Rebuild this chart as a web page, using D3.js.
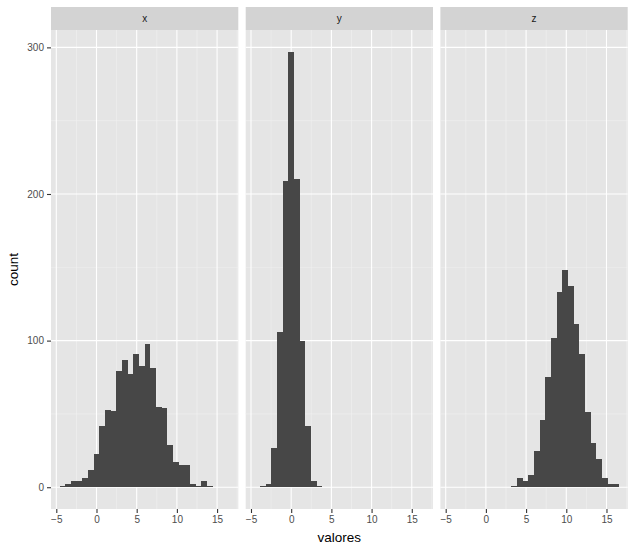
<!DOCTYPE html>
<html lang="en">
<head>
<meta charset="utf-8">
<title>Histogramas por variable</title>
<script src="https://cdn.jsdelivr.net/npm/d3@7"></script>
<style>
  body { margin: 0; background: #fff; }
  svg { display: block; font-family: "Liberation Sans", Arial, Helvetica, sans-serif; }
</style>
</head>
<body>
<div id="chart"></div>
<script>
// ---------- data ----------
const facets = ["x", "y", "z"];
const firstBreak = -4.6;   // left edge of the first bin
const binWidth = 0.706;    // shared bin width (30 bins)

// counts per bin, bins aligned to the shared breaks
const countsX = [1, 2, 4, 4, 6, 12, 23, 42, 53, 52, 79, 87, 77, 91, 83, 98, 81, 55, 54, 29, 17, 15, 15, 2, 1, 4, 1, 0, 0, 0];
const countsY = [0, 1, 2, 27, 106, 209, 297, 210, 100, 42, 4, 1, 0, 0, 0, 0, 0, 0, 0, 0, 0, 0, 0, 0, 0, 0, 0, 0, 0, 0];
const countsZ = [0, 0, 0, 0, 0, 0, 0, 0, 0, 0, 0, 1, 6, 4, 8, 25, 46, 75, 102, 133, 148, 137, 111, 91, 51, 30, 19, 6, 2, 2];

const xTicks = [-5, 0, 5, 10, 15];
const yTicks = [0, 100, 200, 300];
const xTitle = "valores";
const yTitle = "count";

// ---------- layout ----------
const width = 635, height = 550;
const panelLeft = 51, panelTop = 30, panelBottom = 509;
const panelW = 187.3, panelGap = 7.4;
const stripH = 23;

const allCounts = {x: countsX, y: countsY, z: countsZ};
const bins = facets.map(f => allCounts[f].map((c, i) => ({
  facet: f,
  x0: firstBreak + i * binWidth,
  x1: firstBreak + (i + 1) * binWidth,
  count: c
})));

// ggplot-like 5% expansion
const xMin = firstBreak, xMax = firstBreak + 30 * binWidth;
const xPad = (xMax - xMin) * 0.05;
const yMax = d3.max([countsX, countsY, countsZ].flat());
const yPad = yMax * 0.05;

const x = d3.scaleLinear().domain([xMin - xPad, xMax + xPad]).range([0, panelW]);
const y = d3.scaleLinear().domain([-yPad, yMax + yPad]).range([panelBottom, panelTop]);

const svg = d3.select("#chart").append("svg")
  .attr("width", width)
  .attr("height", height);

const minorX = d3.range(-7.5, 20, 5).filter(v => v >= x.domain()[0] && v <= x.domain()[1]);
const minorY = [50, 150, 250];

facets.forEach((f, k) => {
  const g = svg.append("g")
    .attr("transform", `translate(${panelLeft + k * (panelW + panelGap)},0)`);

  // panel background
  g.append("rect")
    .attr("x", 0).attr("y", panelTop)
    .attr("width", panelW).attr("height", panelBottom - panelTop)
    .attr("fill", "#e5e5e5");

  // minor grid
  g.selectAll(".mx").data(minorX).join("line")
    .attr("x1", d => x(d)).attr("x2", d => x(d))
    .attr("y1", panelTop).attr("y2", panelBottom)
    .attr("stroke", "#f2f2f2").attr("stroke-width", 0.55);
  g.selectAll(".my").data(minorY).join("line")
    .attr("x1", 0).attr("x2", panelW)
    .attr("y1", d => y(d)).attr("y2", d => y(d))
    .attr("stroke", "#f2f2f2").attr("stroke-width", 0.55);

  // major grid
  g.selectAll(".gx").data(xTicks).join("line")
    .attr("x1", d => x(d)).attr("x2", d => x(d))
    .attr("y1", panelTop).attr("y2", panelBottom)
    .attr("stroke", "#fff").attr("stroke-width", 1.1);
  g.selectAll(".gy").data(yTicks).join("line")
    .attr("x1", 0).attr("x2", panelW)
    .attr("y1", d => y(d)).attr("y2", d => y(d))
    .attr("stroke", "#fff").attr("stroke-width", 1.1);

  // bars
  g.selectAll(".bar").data(bins[k]).join("rect")
    .attr("x", d => x(d.x0))
    .attr("width", d => x(d.x1) - x(d.x0))
    .attr("y", d => y(d.count))
    .attr("height", d => y(0) - y(d.count))
    .attr("fill", "#474747")
    .attr("shape-rendering", "crispEdges");

  // strip
  g.append("rect")
    .attr("x", 0).attr("y", panelTop - stripH)
    .attr("width", panelW).attr("height", stripH)
    .attr("fill", "#d3d3d3");
  g.append("text")
    .attr("x", panelW / 2).attr("y", panelTop - stripH / 2)
    .attr("dy", "0.35em")
    .attr("text-anchor", "middle")
    .attr("font-size", 10)
    .attr("fill", "#1a1a1a")
    .text(f);

  // x axis
  const xa = g.append("g")
    .attr("transform", `translate(0,${panelBottom})`)
    .call(d3.axisBottom(x).tickValues(xTicks).tickSize(4).tickPadding(3).tickFormat(d3.format("d")));
  xa.select(".domain").remove();
  xa.selectAll("line").attr("stroke", "#333").attr("stroke-width", 1.1);
  xa.selectAll("text").attr("font-size", 10).attr("fill", "#4d4d4d")
    .attr("font-family", "'Liberation Sans', Arial, sans-serif");
});

// y axis
const ya = svg.append("g")
  .attr("transform", `translate(${panelLeft},0)`)
  .call(d3.axisLeft(y).tickValues(yTicks).tickSize(4).tickPadding(3));
ya.select(".domain").remove();
ya.selectAll("line").attr("stroke", "#333").attr("stroke-width", 1.1);
ya.selectAll("text").attr("font-size", 10).attr("fill", "#4d4d4d")
  .attr("font-family", "'Liberation Sans', Arial, sans-serif");

// axis titles
const plotRight = panelLeft + 3 * panelW + 2 * panelGap;
svg.append("text")
  .attr("x", (panelLeft + plotRight) / 2)
  .attr("y", 542)
  .attr("text-anchor", "middle")
  .attr("font-size", 13.5)
  .attr("fill", "#000")
  .text(xTitle);

svg.append("text")
  .attr("transform", `translate(17.5,${(panelTop + panelBottom) / 2}) rotate(-90)`)
  .attr("text-anchor", "middle")
  .attr("font-size", 13.5)
  .attr("fill", "#000")
  .text(yTitle);
</script>
</body>
</html>
